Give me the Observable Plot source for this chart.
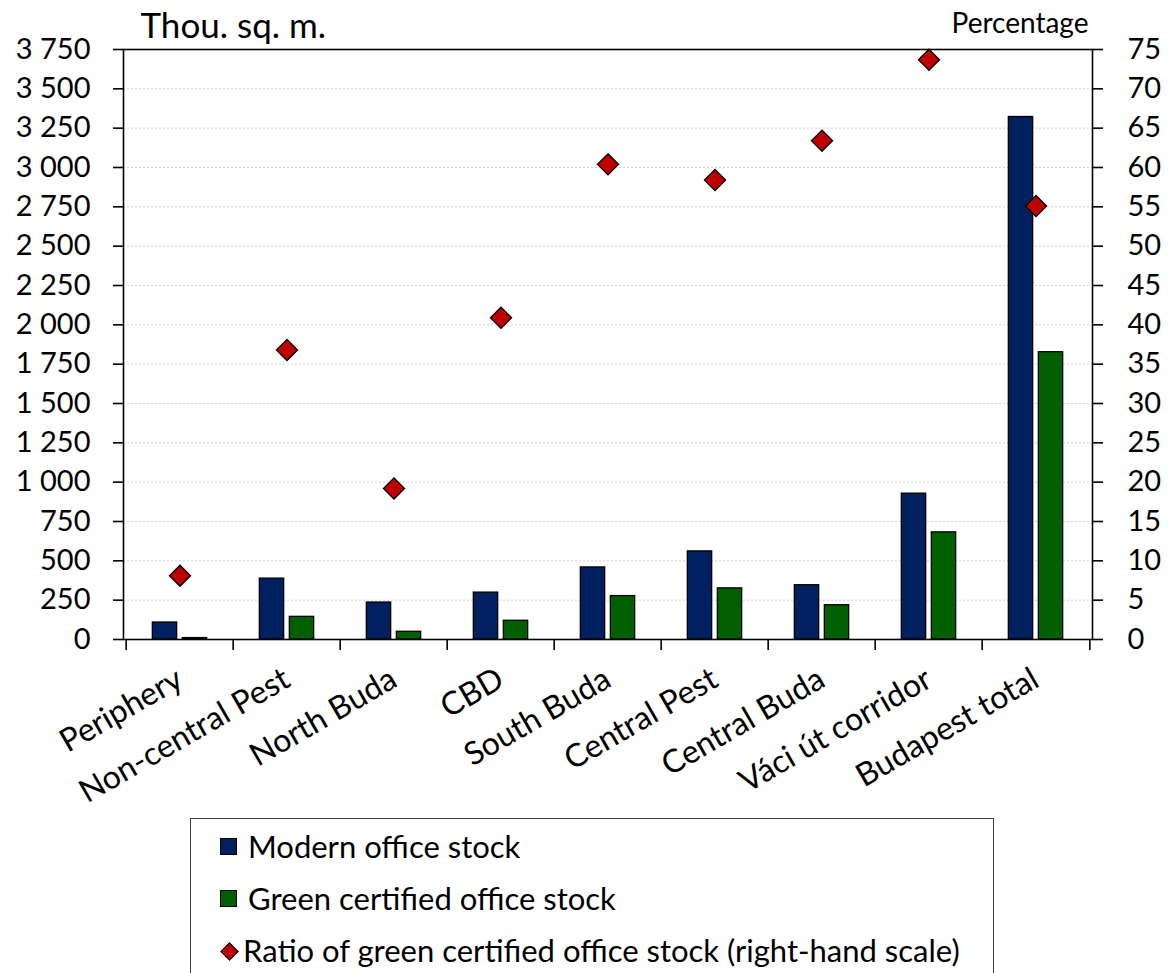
<!DOCTYPE html>
<html>
<head>
<meta charset="utf-8">
<script src="https://cdn.jsdelivr.net/npm/d3@7"></script>
<script src="https://cdn.jsdelivr.net/npm/@observablehq/plot@0.6"></script>
<style>
  html, body { margin: 0; padding: 0; background: #fff; }
  body { width: 1168px; height: 973px; position: relative; overflow: hidden; font-family: Lato, "Open Sans", sans-serif; }
  #chart { position: absolute; left: 0; top: 0; }
  #legend { position: absolute; left: 190px; top: 818px; width: 804px; height: 200px; border: 1px solid #404040; box-sizing: border-box; font-size: 31px; color: #000; }
  .row { position: absolute; left: 0; height: 40px; white-space: nowrap; }
  .sw { position: absolute; width: 15px; height: 15px; border: 1px solid #000; }
  .lab { position: absolute; left: 57px; line-height: 1; }
</style>
</head>
<body>
<div id="chart"></div>
<div id="legend"></div>
<script>
const categories = ["Periphery","Non-central Pest","North Buda","CBD","South Buda","Central Pest","Central Buda","Váci út corridor","Budapest total"];
const modernStock = [108, 387, 235, 298, 458, 560, 345, 927, 3321];
const greenStock = [9, 144, 49, 119, 276, 325, 218, 681, 1826];
const greenRatio = [8.1, 36.8, 19.2, 40.9, 60.4, 58.4, 63.4, 73.7, 55.1];
const leftTicks = [0,250,500,750,1000,1250,1500,1750,2000,2250,2500,2750,3000,3250,3500,3750];
const rightTicks = [0,5,10,15,20,25,30,35,40,45,50,55,60,65,70,75];
const seriesNames = ["Modern office stock","Green certified office stock","Ratio of green certified office stock (right-hand scale)"];
const colors = {modern: "#002060", green: "#006000", ratio: "#C00000"};

const rightFactor = 3750 / 75;
const rows = categories.map((c, i) => ({cat: c, modern: modernStock[i], green: greenStock[i], ratio: greenRatio[i]}));

const W = 1168, H = 815;
const mL = 123, mR = 76, mT = 49, mB = H - 639;
const bw = (W - mL - mR) / categories.length;
const half = bw / 2;
const barW = 25, gap = 5;

const fmt = d => d3.format(",")(d).replace(/,/g, " ");

const chart = Plot.plot({
  width: W, height: H,
  marginLeft: mL, marginRight: mR, marginTop: mT, marginBottom: mB,
  style: {fontFamily: "Lato, 'Open Sans', sans-serif", fontSize: "29px", color: "#000", background: "#fff"},
  x: {type: "band", domain: categories, padding: 0, label: null},
  y: {domain: [0, 3750], label: null},
  marks: [
    Plot.gridY(leftTicks.slice(1, -1), {stroke: "#cfcfcf", strokeOpacity: 1, strokeDasharray: "2,2", strokeWidth: 1}),
    Plot.barY(rows, {x: "cat", y: "modern", fill: colors.modern, stroke: "#000", strokeWidth: 1.3,
      insetLeft: half - barW - gap/2, insetRight: half + gap/2}),
    Plot.barY(rows, {x: "cat", y: "green", fill: colors.green, stroke: "#000", strokeWidth: 1.3,
      insetLeft: half + gap/2, insetRight: half - barW - gap/2}),
    Plot.dot(rows, {x: "cat", y: d => d.ratio * rightFactor, symbol: "diamond2", r: 9.5, fill: colors.ratio, stroke: "#000", strokeWidth: 1.3}),
    Plot.frame({stroke: "#000", strokeWidth: 1.6}),
    Plot.axisY({anchor: "left", ticks: leftTicks, tickSize: 10, tickPadding: 23, tickFormat: fmt, strokeWidth: 1.6, fontSize: 29}),
    Plot.axisY({anchor: "right", ticks: rightTicks.map(v => v * rightFactor), tickSize: 10, tickPadding: 25, tickFormat: d => String(d / rightFactor), strokeWidth: 1.6, fontSize: 29}),
    Plot.axisX({ticks: categories, tickSize: 11, text: null, dx: -half, strokeWidth: 1.6}),
    Plot.axisX({ticks: categories.slice(-1), tickSize: 11, text: null, dx: half, strokeWidth: 1.6}),
    Plot.axisX({ticks: categories, tickSize: 0, tickPadding: 37, tickRotate: -30, fontSize: 32}),
    Plot.text(["Thou. sq. m."], {frameAnchor: "top-left", dx: 17, dy: -36, textAnchor: "start", lineAnchor: "top", fontSize: 35}),
    Plot.text(["Percentage"], {frameAnchor: "top-right", dx: -4, dy: -36, textAnchor: "end", lineAnchor: "top", fontSize: 28})
  ]
});
document.getElementById("chart").appendChild(chart);

// Legend
const legend = document.getElementById("legend");
const legendItems = [
  {name: seriesNames[0], type: "square", color: colors.modern},
  {name: seriesNames[1], type: "square", color: colors.green},
  {name: seriesNames[2], type: "diamond", color: colors.ratio}
];
legendItems.forEach((it, i) => {
  const row = document.createElement("div");
  row.className = "row";
  row.style.top = (12 + i * 52) + "px";
  const sw = document.createElement("div");
  sw.className = "sw";
  sw.style.background = it.color;
  if (it.type === "square") {
    sw.style.left = "29px"; sw.style.top = "7px";
  } else {
    sw.style.width = "11px"; sw.style.height = "11px";
    sw.style.left = "32px"; sw.style.top = "10px";
    sw.style.transform = "rotate(45deg)";
  }
  const lab = document.createElement("div");
  lab.className = "lab";
  lab.textContent = it.name;
  if (it.type === "diamond") lab.style.left = "52px";
  row.appendChild(sw); row.appendChild(lab);
  legend.appendChild(row);
});
</script>
</body>
</html>
